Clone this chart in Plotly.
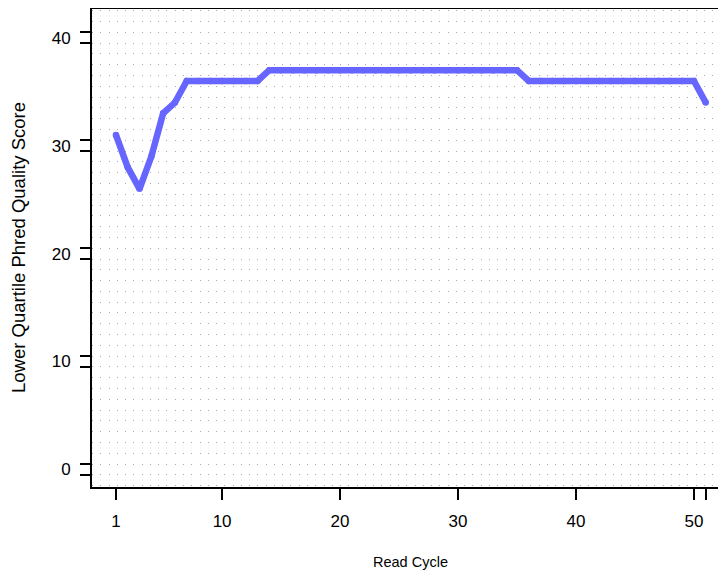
import plotly.graph_objects as go

# Data
cycles = list(range(1, 52))
lower_quartile = ([31, 28, 26, 29, 33, 34, 36]
                  + [36] * 6
                  + [37] * 22
                  + [36] * 15
                  + [34])

x_tick_vals = [1, 10, 20, 30, 40, 50, 51]
x_tick_text = ["1", "10", "20", "30", "40", "50", ""]
y_label_vals = [0, 10, 20, 30, 40]
y_tick_pairs = [v + d for v in y_label_vals for d in (-0.5, 0.5)]

x_title = "Read Cycle"
y_title = "Lower Quartile Phred Quality Score"

LINE_COLOR = "#6666FF"
FONT = "Liberation Sans, Arial, sans-serif"
X_RANGE = [-1.03, 52.72]
Y_RANGE = [-1.63, 42.67]

fig = go.Figure()
fig.add_trace(go.Scatter(
    x=cycles, y=lower_quartile, mode="lines+markers",
    line=dict(color=LINE_COLOR, width=6.5),
    marker=dict(color=LINE_COLOR, size=6.5, line=dict(width=0)),
    hoverinfo="skip", showlegend=False,
))
# invisible helper so the overlay axis (paired ticks) is drawn
fig.add_trace(go.Scatter(
    x=cycles[:1], y=lower_quartile[:1], yaxis="y2", mode="markers",
    marker=dict(opacity=0), hoverinfo="skip", showlegend=False,
))

# page body has an 8px default margin, so the figure is 8px smaller
fig.update_layout(
    width=718, height=565,
    margin=dict(l=84, r=0, t=1, b=86),
    plot_bgcolor="white", paper_bgcolor="white",
    font=dict(family=FONT, size=17, color="black"),
    showlegend=False,
    xaxis=dict(
        range=X_RANGE, tickmode="array", tickvals=x_tick_vals, ticktext=x_tick_text,
        ticks="outside", ticklen=11, tickwidth=1.6, tickcolor="black",
        showline=True, linecolor="black", linewidth=1.8, mirror=True,
        showgrid=False, zeroline=False, automargin=False,
        tickfont=dict(size=17), ticklabelstandoff=7,
    ),
    yaxis=dict(
        range=Y_RANGE, tickmode="array", tickvals=y_label_vals,
        ticktext=[str(v) for v in y_label_vals],
        ticks="", showline=True, linecolor="black", linewidth=1.8,
        showgrid=False, zeroline=False, automargin=False,
        tickfont=dict(size=17), ticklabelstandoff=16,
        minor=dict(tickmode="linear", tick0=-0.5, dtick=1, showgrid=True,
                   gridcolor="#a8a8a8", gridwidth=1, griddash="1px,7.27px", ticks=""),
    ),
    yaxis2=dict(
        range=Y_RANGE, overlaying="y", side="left", anchor="x",
        tickmode="array", tickvals=y_tick_pairs, showticklabels=False,
        ticks="outside", ticklen=11, tickwidth=1.6, tickcolor="black",
        showline=False, showgrid=False, zeroline=False, automargin=False,
    ),
    annotations=[
        dict(text=x_title, xref="paper", yref="paper", x=0.503, y=-0.157,
             xanchor="center", yanchor="middle", showarrow=False,
             font=dict(size=14.5)),
        dict(text=y_title, xref="paper", yref="paper", x=-0.1167, y=0.5,
             xanchor="center", yanchor="middle", showarrow=False, textangle=-90,
             font=dict(size=18.5)),
    ],
)

fig.write_html("out.html")
